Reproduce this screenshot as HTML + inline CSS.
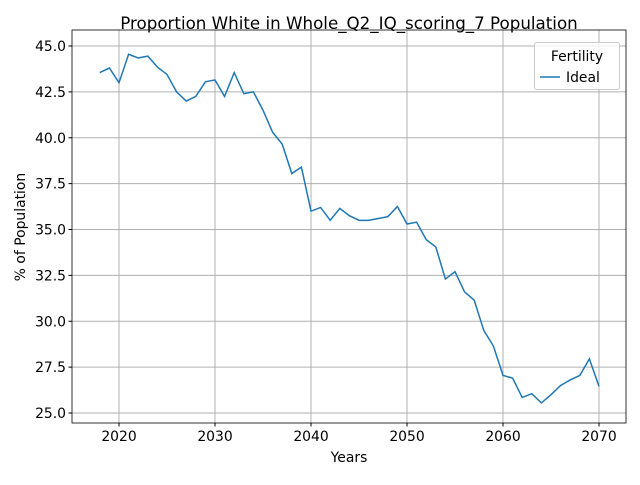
<!DOCTYPE html>
<html><head><meta charset="utf-8"><style>
body{margin:0;background:#fff;font-family:"Liberation Sans","DejaVu Sans",sans-serif}
svg text{font-family:"DejaVu Sans","Liberation Sans",sans-serif}
</style></head><body>
<svg id="c" width="640" height="480"></svg>
<script>
const years=[];for(let y=2018;y<=2070;y++)years.push(y);
const values=[43.55,43.8,43.0,44.55,44.35,44.45,43.85,43.45,42.5,42.0,42.25,43.05,43.15,42.25,43.55,42.4,42.5,41.5,40.3,39.65,38.05,38.4,36.0,36.2,35.5,36.15,35.75,35.5,35.5,35.6,35.7,36.25,35.3,35.4,34.45,34.05,32.3,32.7,31.6,31.15,29.5,28.65,27.05,26.9,25.85,26.05,25.55,26.0,26.5,26.8,27.05,27.95,26.45];
const xTicks=[2020,2030,2040,2050,2060,2070];
const yTicks=[25.0,27.5,30.0,32.5,35.0,37.5,40.0,42.5,45.0];
const L=72,R=626,T=30,B=423;
const xs=v=>119+(v-2020)*9.6;
const ys=v=>413-(v-25)*18.35;
const svg=document.getElementById('c');const NS='http://www.w3.org/2000/svg';
function mk(t,a,p){const e=document.createElementNS(NS,t);for(const k in a)e.setAttribute(k,a[k]);(p||svg).appendChild(e);return e;}
const g=mk('g',{});


xTicks.forEach(t=>{const x=xs(t);
const l=mk('line',{x1:x,x2:x,y1:T,y2:B,stroke:'#b0b0b0','stroke-width':1},g);


mk('line',{x1:x,x2:x,y1:B,y2:B+3.5,stroke:'#000'});
const tx=mk('text',{x:x,y:B+18,'text-anchor':'middle','font-size':13.9});tx.textContent=t;

});
yTicks.forEach(t=>{const y=ys(t);
const l=mk('line',{x1:L,x2:R,y1:y,y2:y,stroke:'#b0b0b0','stroke-width':1},g);


mk('line',{x1:L-3.5,x2:L,y1:y,y2:y,stroke:'#000'});
const tx=mk('text',{x:L-6,y:y+5,'text-anchor':'end','font-size':13.9});tx.textContent=t.toFixed(1);

});
const line=mk('polyline',{points:years.map((y,i)=>xs(y)+','+ys(values[i])).join(' '),fill:'none',stroke:'#1f77b4','stroke-width':1.5});


const fr=mk('rect',{x:L,y:T,width:R-L,height:B-T,fill:'none',stroke:'#000','stroke-width':0.8});


</script>
<svg width="640" height="480" style="position:absolute;left:0;top:0">
<text x="349" y="29" text-anchor="middle" font-size="16.7">Proportion White in Whole_Q2_IQ_scoring_7 Population</text>
<text x="349" y="462" text-anchor="middle" font-size="13.9">Years</text>
<text x="25" y="227" text-anchor="middle" font-size="13.9" transform="rotate(-90 25 227)">% of Population</text>
<g>
<rect x="534.5" y="42.5" width="85" height="47" rx="2" fill="#fff" fill-opacity="0.8" stroke="#ccc"/>
<text x="577" y="61" text-anchor="middle" font-size="13.9">Fertility</text>
<line x1="540" x2="560" y1="77" y2="77" stroke="#1f77b4" stroke-width="1.5"/>
<text x="566" y="82" font-size="13.9">Ideal</text>
</g>
</svg>
</body></html>
